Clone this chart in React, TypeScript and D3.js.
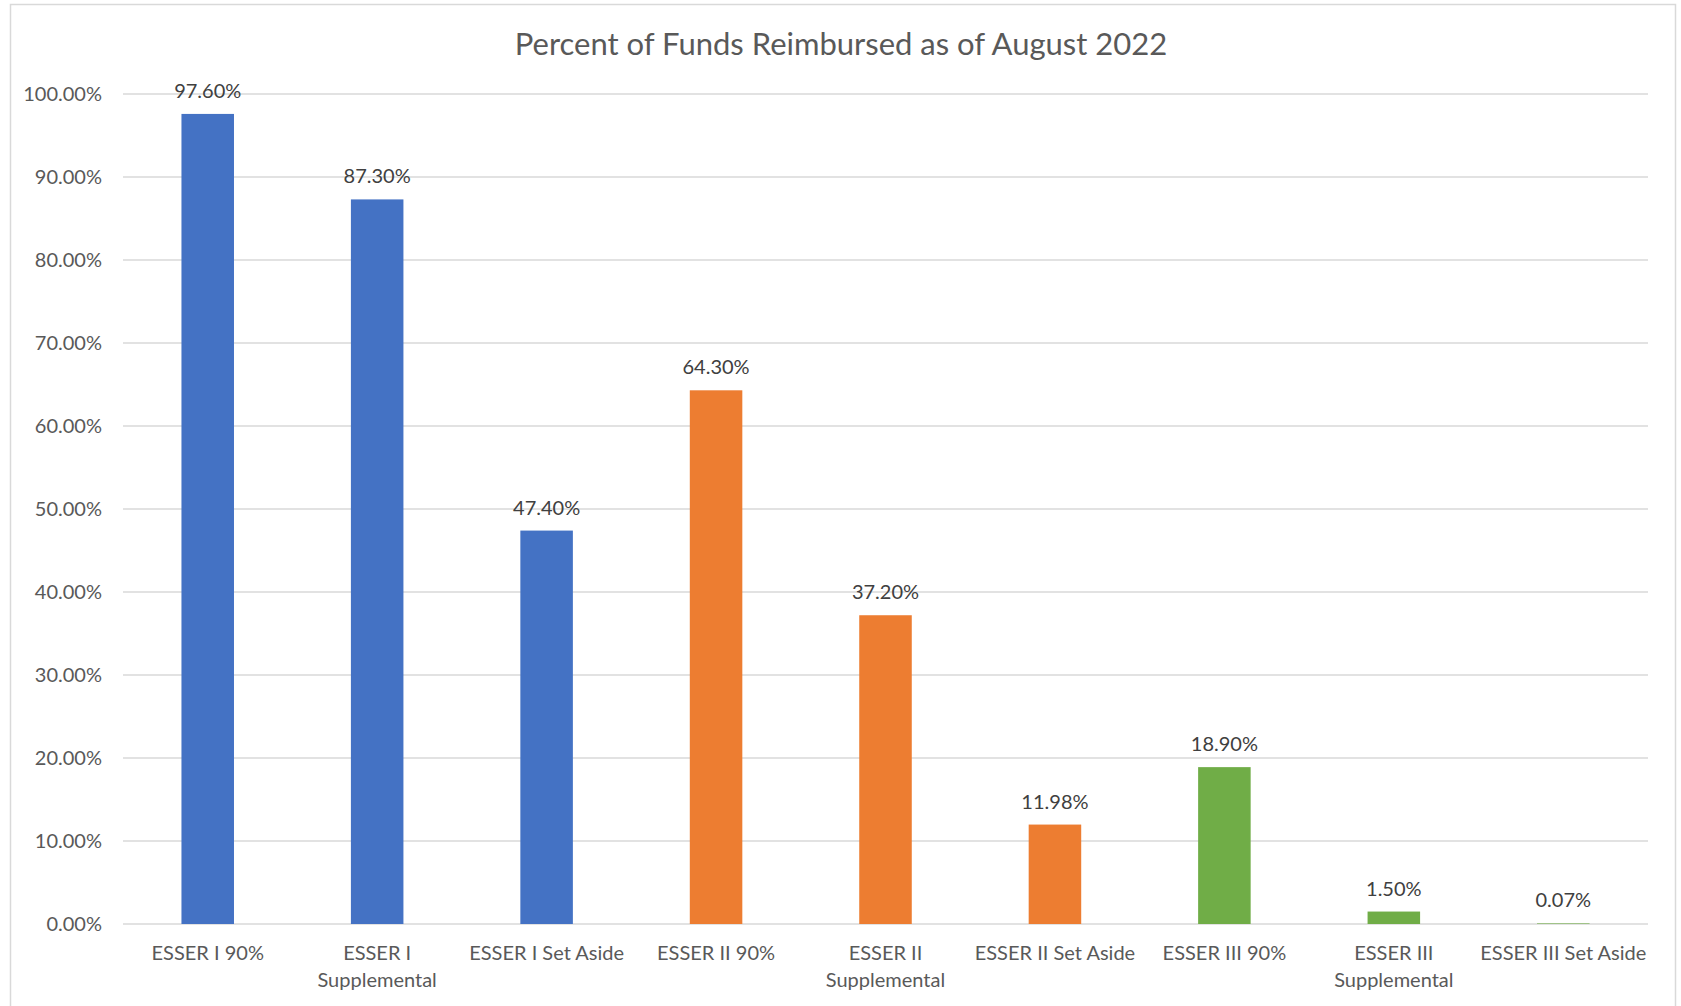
import * as d3 from "d3";
import { useEffect, useRef } from "react";

const categories = [
  "ESSER I 90%",
  "ESSER I|Supplemental",
  "ESSER I Set Aside",
  "ESSER II 90%",
  "ESSER II|Supplemental",
  "ESSER II Set Aside",
  "ESSER III 90%",
  "ESSER III|Supplemental",
  "ESSER III Set Aside",
];
const values = [97.6, 87.3, 47.4, 64.3, 37.2, 11.98, 18.9, 1.5, 0.07];
const groups = ["I", "I", "I", "II", "II", "II", "III", "III", "III"];
const yTicks = [0, 10, 20, 30, 40, 50, 60, 70, 80, 90, 100];

const groupColors: Record<string, string> = {
  I: "#4472C4",
  II: "#ED7D31",
  III: "#70AD47",
};

const W = 1681;
const H = 1006;
const FONT = "Lato, 'Open Sans', sans-serif";

export default function App() {
  const svgRef = useRef<SVGSVGElement>(null);

  useEffect(() => {
    if (!svgRef.current) return;
    const svg = d3.select(svgRef.current);
    svg.selectAll("*").remove();

    const left = 123;
    const right = 1648;
    const top = 94;
    const bottom = 924;

    // chart frame
    svg
      .append("rect")
      .attr("x", 10.5)
      .attr("y", 4.5)
      .attr("width", 1665)
      .attr("height", 1010)
      .attr("fill", "white")
      .attr("stroke", "#D9D9D9")
      .attr("stroke-width", 1.5);

    const x = d3
      .scaleBand<string>()
      .domain(categories)
      .range([left, right])
      .paddingInner(0.69)
      .paddingOuter(0.345);

    const y = d3.scaleLinear().domain([0, 100]).range([bottom, top]);

    // gridlines
    svg
      .append("g")
      .selectAll("line")
      .data(yTicks)
      .enter()
      .append("line")
      .attr("x1", left)
      .attr("x2", right)
      .attr("y1", (d) => y(d))
      .attr("y2", (d) => y(d))
      .attr("stroke", "#D9D9D9")
      .attr("stroke-width", 1.5);

    // y tick labels
    svg
      .append("g")
      .selectAll("text")
      .data(yTicks)
      .enter()
      .append("text")
      .attr("x", 102)
      .attr("y", (d) => y(d))
      .attr("dy", "0.35em")
      .attr("text-anchor", "end")
      .attr("fill", "#595959")
      .style("font-family", FONT)
      .style("font-size", "20px")
      .text((d) => d.toFixed(2) + "%");

    // bars
    svg
      .append("g")
      .selectAll("rect")
      .data(values)
      .enter()
      .append("rect")
      .attr("x", (_, i) => x(categories[i]) as number)
      .attr("y", (d) => y(d))
      .attr("width", x.bandwidth())
      .attr("height", (d) => bottom - y(d))
      .attr("fill", (_, i) => groupColors[groups[i]]);

    // data labels
    svg
      .append("g")
      .selectAll("text")
      .data(values)
      .enter()
      .append("text")
      .attr("x", (_, i) => (x(categories[i]) as number) + x.bandwidth() / 2)
      .attr("y", (d) => y(d) - 16)
      .attr("text-anchor", "middle")
      .attr("fill", "#404040")
      .style("font-family", FONT)
      .style("font-size", "20px")
      .text((d) => d.toFixed(2) + "%");

    // category labels
    const cat = svg
      .append("g")
      .selectAll("text")
      .data(categories)
      .enter()
      .append("text")
      .attr("x", (d) => (x(d) as number) + x.bandwidth() / 2)
      .attr("y", 960)
      .attr("text-anchor", "middle")
      .attr("fill", "#595959")
      .style("font-family", FONT)
      .style("font-size", "20px");

    cat
      .selectAll("tspan")
      .data((d) => d.split("|").map((t) => ({ t, cx: (x(d) as number) + x.bandwidth() / 2 })))
      .enter()
      .append("tspan")
      .attr("x", (d) => d.cx)
      .attr("dy", (_, i) => (i === 0 ? 0 : 27))
      .text((d) => d.t);

    // title
    svg
      .append("text")
      .attr("x", 841)
      .attr("y", 55)
      .attr("text-anchor", "middle")
      .attr("fill", "#595959")
      .style("font-family", FONT)
      .style("font-size", "31px")
      .text("Percent of Funds Reimbursed as of August 2022");
  }, []);

  return (
    <div style={{ position: "absolute", left: 0, top: 0 }}>
      <svg ref={svgRef} width={W} height={H} style={{ display: "block" }} />
    </div>
  );
}
